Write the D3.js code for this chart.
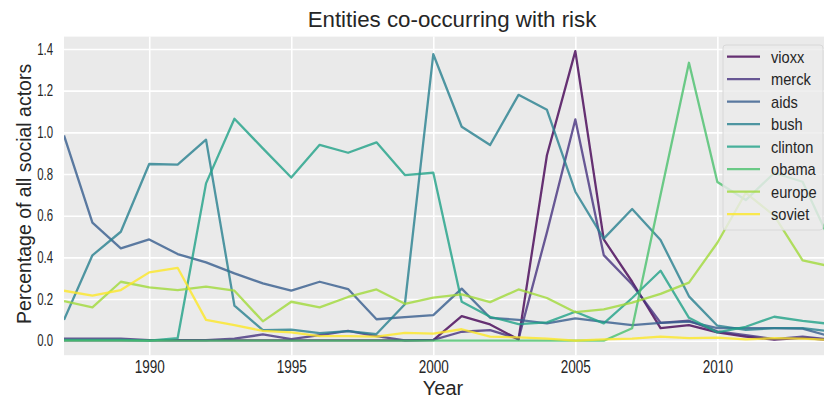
<!DOCTYPE html>
<html><head><meta charset="utf-8">
<script src="https://cdn.jsdelivr.net/npm/d3@7"></script>
<style>body{margin:0;background:#fff} svg{display:block}</style>
</head><body>
<svg id="chart" width="824" height="401"></svg>
<script>
const years = [1987,1988,1989,1990,1991,1992,1993,1994,1995,1996,1997,1998,1999,2000,
               2001,2002,2003,2004,2005,2006,2007,2008,2009,2010,2011,2012,2013,2014];
const seriesNames = ["vioxx","merck","aids","bush","clinton","obama","europe","soviet"];
const vioxx   = [0.002,0.002,0.002,0.002,0.002,0.002,0.002,0.002,0.002,0.002,0.002,0.002,0.002,0.003,
                 0.118,0.078,0.006,0.89,1.39,0.486,0.283,0.06,0.075,0.04,0.02,0.005,0.014,0.003];
const merck   = [0.01,0.01,0.01,0.003,0.003,0.003,0.01,0.03,0.008,0.027,0.047,0.022,0.002,0.004,
                 0.043,0.051,0.009,0.52,1.062,0.411,0.27,0.086,0.096,0.045,0.027,0.008,0.02,0.005];
const aids    = [0.985,0.567,0.443,0.486,0.416,0.376,0.323,0.275,0.24,0.283,0.248,0.103,0.113,0.123,
                 0.25,0.11,0.1,0.083,0.107,0.09,0.075,0.086,0.092,0.06,0.06,0.06,0.058,0.02];
const bush    = [0.1,0.41,0.523,0.848,0.845,0.965,0.168,0.051,0.053,0.036,0.046,0.032,0.175,1.375,
                 1.027,0.939,1.18,1.108,0.715,0.49,0.632,0.483,0.213,0.072,0.052,0.06,0.06,0.045];
const clinton = [0.004,0.004,0.004,0.0,0.012,0.755,1.065,0.923,0.783,0.94,0.902,0.952,0.795,0.806,
                 0.187,0.115,0.08,0.088,0.139,0.083,0.205,0.336,0.11,0.04,0.067,0.115,0.095,0.08];
const obama   = [0,0,0,0,0,0,0,0,0,0,0,0,0,0,
                 0,0,0,0,0,0,0.06,0.70,1.334,0.762,0.675,0.805,0.763,0.47];
const europe  = [0.19,0.16,0.283,0.256,0.243,0.26,0.24,0.093,0.187,0.16,0.21,0.246,0.177,0.207,
                 0.222,0.185,0.246,0.205,0.137,0.15,0.183,0.225,0.279,0.47,0.71,0.6,0.386,0.356];
const soviet  = [0.24,0.216,0.243,0.328,0.35,0.1,0.075,0.047,0.04,0.022,0.022,0.02,0.038,0.034,
                 0.055,0.02,0.016,0.01,0.0,0.006,0.01,0.02,0.012,0.015,0.006,0.012,0.01,0.004];
const xTicks = [1990,1995,2000,2005,2010];
const yTicks = [0.0,0.2,0.4,0.6,0.8,1.0,1.2,1.4];
const title = "Entities co-occurring with risk";
const xLabel = "Year";
const yLabel = "Percentage of all social actors";

const seriesValues = [vioxx, merck, aids, bush, clinton, obama, europe, soviet];
const series = seriesNames.map((n, i) => ({name: n, values: years.map((yr, j) => ({year: yr, v: seriesValues[i][j]}))}));

const svg = d3.select("#chart");
const L = 64, R = 831, T = 36.6, B = 355.2;
const x = d3.scaleLinear().domain([1987, 2014]).range([L, R]);
const y = d3.scaleLinear().domain([-0.0695, 1.4595]).range([B, T]);
const color = d3.scaleOrdinal().domain(seriesNames)
  .range(seriesNames.map((d, i) => d3.interpolateViridis(i / (seriesNames.length - 1))));
const txt = "#262626";
const font = "'Liberation Sans', Arial, sans-serif";

function narrow(sel, ratio) {
  sel.each(function() {
    const w = this.getComputedTextLength();
    d3.select(this).attr("textLength", w * ratio).attr("lengthAdjust", "spacingAndGlyphs");
  });
}

svg.append("defs").append("clipPath").attr("id", "clip")
  .append("rect").attr("x", L).attr("y", T).attr("width", R - L).attr("height", B - T);

svg.append("rect").attr("x", L).attr("y", T).attr("width", R - L).attr("height", B - T)
  .attr("fill", "#eaeaea");

// grid
const gx = svg.append("g").attr("transform", `translate(0,${B})`)
  .call(d3.axisBottom(x).tickValues(xTicks).tickSize(-(B - T)).tickFormat(""));
gx.select(".domain").remove();
gx.selectAll("line").attr("stroke", "#fff").attr("stroke-width", 1.6);
const gy = svg.append("g").attr("transform", `translate(${L},0)`)
  .call(d3.axisLeft(y).tickValues(yTicks).tickSize(-(R - L)).tickFormat(""));
gy.select(".domain").remove();
gy.selectAll("line").attr("stroke", "#fff").attr("stroke-width", 1.6);

// tick labels
const ax = svg.append("g").attr("transform", `translate(0,${B})`)
  .call(d3.axisBottom(x).tickValues(xTicks).tickSize(0).tickPadding(6).tickFormat(d3.format("d")));
ax.select(".domain").remove();
ax.selectAll("text").attr("font-family", font).attr("font-size", 18).attr("fill", txt)
  .attr("dy", "0.71em").attr("y", 5.5);
narrow(ax.selectAll("text"), 0.75);

const ay = svg.append("g").attr("transform", `translate(${L},0)`)
  .call(d3.axisLeft(y).tickValues(yTicks).tickSize(0).tickPadding(11).tickFormat(d3.format(".1f")));
ay.select(".domain").remove();
ay.selectAll("text").attr("font-family", font).attr("font-size", 16.5).attr("fill", txt);
narrow(ay.selectAll("text"), 0.69);

// lines
const line = d3.line().x(d => x(d.year)).y(d => y(d.v));
svg.append("g").attr("clip-path", "url(#clip)")
  .selectAll("path").data(series).join("path")
  .attr("d", d => line(d.values))
  .attr("fill", "none")
  .attr("stroke", d => color(d.name))
  .attr("stroke-width", 2.3)
  .attr("stroke-opacity", 0.8)
  .attr("stroke-linejoin", "round");

// labels
svg.append("text").attr("x", 452).attr("y", 27).attr("text-anchor", "middle")
  .attr("font-family", font).attr("font-size", 22.3).attr("fill", txt).text(title);
svg.append("text").attr("x", 443).attr("y", 395).attr("text-anchor", "middle")
  .attr("font-family", font).attr("font-size", 20).attr("fill", txt).text(xLabel);
svg.append("text").attr("transform", `translate(31,${(T + B) / 2 - 2}) rotate(-90)`)
  .attr("text-anchor", "middle")
  .attr("font-family", font).attr("font-size", 19.5).attr("fill", txt).text(yLabel);

// legend
const lg = svg.append("g");
lg.append("rect").attr("x", 723).attr("y", 45).attr("width", 100).attr("height", 185)
  .attr("rx", 3).attr("fill", "#ececec").attr("fill-opacity", 0.82)
  .attr("stroke", "#d8d8d8").attr("stroke-width", 1);
const row = lg.selectAll("g.row").data(seriesNames).join("g")
  .attr("transform", (d, i) => `translate(0,${56.7 + i * 22.5})`);
row.append("line").attr("x1", 727).attr("x2", 760)
  .attr("stroke", d => color(d)).attr("stroke-width", 2.3).attr("stroke-opacity", 0.8);
row.append("text").attr("x", 771).attr("y", 0).attr("dy", "0.35em")
  .attr("font-family", font).attr("font-size", 17).attr("fill", txt).text(d => d);
narrow(row.selectAll("text"), 0.86);
</script>
</body></html>
